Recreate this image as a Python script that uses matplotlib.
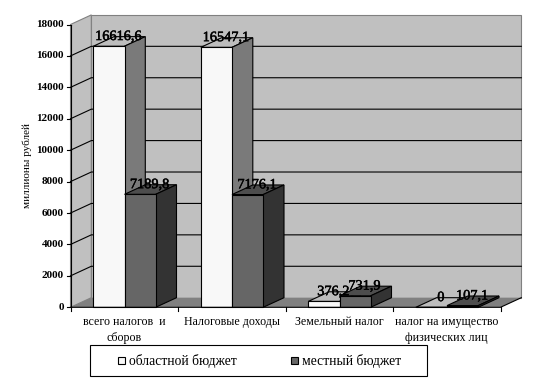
import matplotlib
matplotlib.use("Agg")
import matplotlib.pyplot as plt
import matplotlib.patheffects as pe
from matplotlib.patches import Polygon, Rectangle

plt.rcParams['font.family'] = ['Liberation Serif', 'DejaVu Serif']

categories = ['всего налогов  и\nсборов', 'Налоговые доходы', 'Земельный налог',
              'налог на имущество\nфизических лиц']
oblast = [16616.6, 16547.1, 376.2, 0]
mestny = [7189.8, 7176.1, 731.9, 107.1]
oblast_labels = ['16616,6', '16547,1', '376,2', '0']
mestny_labels = ['7189,8', '7176,1', '731,9', '107,1']
series_names = ['областной бюджет', 'местный бюджет']
yticks = list(range(0, 20000, 2000))

W, H = 537, 382
fig = plt.figure(figsize=(W / 100, H / 100), dpi=100, facecolor='white')
X0, X1, Y0, Y1 = 70.5, 500.5, 307.3, 24.5
ax = fig.add_axes([X0 / W, 1 - Y0 / H, (X1 - X0) / W, (Y0 - Y1) / H])
ax.set_xlim(0, 4)
ax.set_ylim(0, 18000)
ax.axis('off')

UX = (X1 - X0) / 4
UY = (Y0 - Y1) / 18000
DX = 20.8 / UX          # depth in x units
DY = 9.6 / UY           # depth in y units
BAR = 31.2 / UX
PAD = 22.8 / UX
LW = 0.8
K = dict(clip_on=False)
STROKE = [pe.withStroke(linewidth=0.35, foreground='black')]


def poly(pts, fc, ec='black', lw=LW, z=2):
    ax.add_patch(Polygon(pts, closed=True, fc=fc, ec=ec, lw=lw, zorder=z,
                         joinstyle='miter', **K))


# walls and floor
poly([(DX, DY), (4 + DX, DY), (4 + DX, 18000 + DY), (DX, 18000 + DY)], '#C0C0C0', '#808080', LW, 1)
poly([(0, 0), (DX, DY), (DX, 18000 + DY), (0, 18000)], '#C0C0C0', '#808080', LW, 1)
poly([(0, 0), (4, 0), (4 + DX, DY), (DX, DY)], '#808080', 'none', 0, 1.2)

# gridlines
for v in yticks[1:-1]:
    ax.plot([0, DX, 4 + DX], [v, v + DY, v + DY], color='black', lw=LW, zorder=1.5, **K)


def bar3d(x, v, face, side, top):
    poly([(x, v), (x + DX, v + DY), (x + BAR + DX, v + DY), (x + BAR, v)], top, z=3)
    poly([(x + BAR, 0), (x + BAR + DX, DY), (x + BAR + DX, v + DY), (x + BAR, v)], side, z=3)
    poly([(x, 0), (x + BAR, 0), (x + BAR, v), (x, v)], face, z=3)


for i, (a, b) in enumerate(zip(oblast, mestny)):
    bar3d(i + PAD, a, '#F8F8F8', '#7A7A7A', '#BDBDBD')
    bar3d(i + PAD + BAR, b, '#666666', '#333333', '#4D4D4D')

# data labels
LX = 25 / UX
LY = 9.7 / UY
for i, (a, b, la, lb) in enumerate(zip(oblast, mestny, oblast_labels, mestny_labels)):
    ax.text(i + PAD + LX, a + LY, la, ha='center', va='center', fontsize=10.3,
            color='black', zorder=6, path_effects=STROKE, **K)
    ax.text(i + PAD + BAR + LX, b + LY, lb, ha='center', va='center', fontsize=10.3,
            color='black', zorder=6, path_effects=STROKE, **K)

# axes lines and ticks
ax.plot([0, 0], [0, 18000], color='black', lw=LW, zorder=5, **K)
ax.plot([0, 4, 4 + DX], [0, 0, DY], color='black', lw=LW, zorder=5, **K)
for v in yticks:
    ax.plot([-4 / UX, 0], [v, v], color='black', lw=LW, zorder=5, **K)
    ax.text(-6.5 / UX, v, str(v), ha='right', va='center', fontsize=8, fontweight='bold', **K)
for i in range(5):
    ax.plot([i, i], [0, -4 / UY], color='black', lw=LW, zorder=5, **K)
for i, c in enumerate(categories):
    ax.text(i + 0.5, -8.5 / UY, c, ha='center', va='top', fontsize=8.6,
            linespacing=1.45, **K)
ax.text(-43.5 / UX, 9000, 'миллионы рублей', rotation=90, ha='center', va='center', fontsize=8, **K)

# legend
ov = fig.add_axes([0, 0, 1, 1], facecolor='none')
ov.set_xlim(0, W)
ov.set_ylim(H, 0)
ov.axis('off')
ov.add_patch(Rectangle((89.5, 345.3), 337, 31, fc='white', ec='black', lw=LW))
ov.add_patch(Rectangle((118, 357), 7, 7, fc='#F8F8F8', ec='black', lw=LW))
ov.add_patch(Rectangle((291, 357), 7, 7, fc='#666666', ec='black', lw=LW))
ov.text(129, 360.5, series_names[0], ha='left', va='center', fontsize=9.8)
ov.text(302, 360.5, series_names[1], ha='left', va='center', fontsize=9.8)

fig.savefig('out.png', dpi=100)
